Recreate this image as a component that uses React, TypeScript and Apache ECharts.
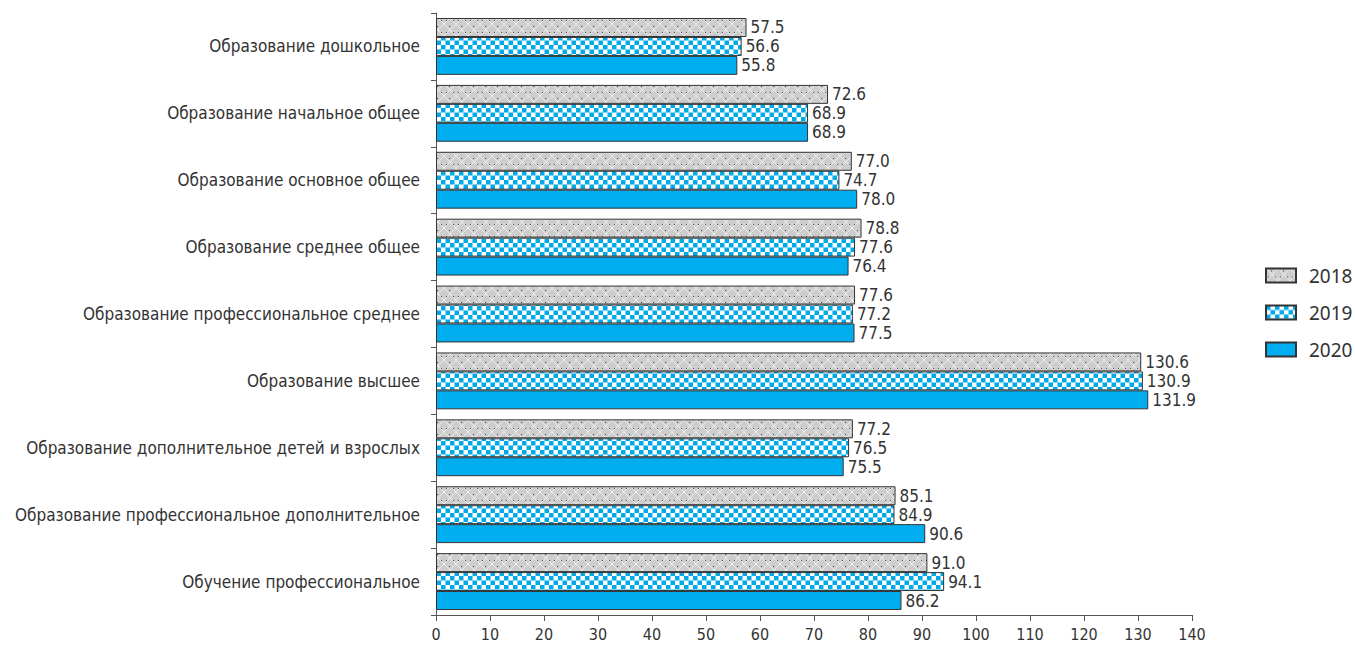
import React, { useEffect, useRef } from "react";
import * as echarts from "echarts";

const categories = [
  "Образование дошкольное",
  "Образование начальное общее",
  "Образование основное общее",
  "Образование среднее общее",
  "Образование профессиональное среднее",
  "Образование высшее",
  "Образование дополнительное детей и взрослых",
  "Образование профессиональное дополнительное",
  "Обучение профессиональное",
];
const seriesNames = ["2018", "2019", "2020"];
const values2018 = [57.5, 72.6, 77.0, 78.8, 77.6, 130.6, 77.2, 85.1, 91.0];
const values2019 = [56.6, 68.9, 74.7, 77.6, 77.2, 130.9, 76.5, 84.9, 94.1];
const values2020 = [55.8, 68.9, 78.0, 76.4, 77.5, 131.9, 75.5, 90.6, 86.2];

const FONT = "'DejaVu Sans Condensed', 'Roboto', sans-serif";

function makeChecker(): HTMLCanvasElement {
  const c = document.createElement("canvas");
  c.width = 9;
  c.height = 9;
  const ctx = c.getContext("2d")!;
  ctx.fillStyle = "#ffffff";
  ctx.fillRect(0, 0, 9, 9);
  ctx.fillStyle = "#00a9e8";
  ctx.fillRect(0, 0, 4.5, 4.5);
  ctx.fillRect(4.5, 4.5, 4.5, 4.5);
  return c;
}

function makeDots(): HTMLCanvasElement {
  const c = document.createElement("canvas");
  c.width = 12;
  c.height = 12;
  const ctx = c.getContext("2d")!;
  ctx.fillStyle = "#cdcdcd";
  ctx.fillRect(0, 0, 12, 12);
  ctx.strokeStyle = "#ececec";
  ctx.lineWidth = 1;
  ctx.beginPath();
  ctx.moveTo(0, 0);
  ctx.lineTo(12, 12);
  ctx.moveTo(12, 0);
  ctx.lineTo(0, 12);
  ctx.stroke();
  ctx.fillStyle = "#444444";
  ctx.fillRect(5, 2, 1, 1);
  ctx.fillRect(2, 8, 1, 1);
  ctx.fillRect(9, 8, 1, 1);
  return c;
}

export default function App() {
  const ref = useRef<HTMLDivElement>(null);
  useEffect(() => {
    if (!ref.current) return;
    const chart = echarts.init(ref.current, null, { renderer: "svg" });
    const checker = { image: makeChecker(), repeat: "repeat" } as any;
    const dots = { image: makeDots(), repeat: "repeat" } as any;
    const fills = [dots, checker, "#00aeef"];
    const data = [values2018, values2019, values2020];
    chart.setOption({
      animation: false,
      textStyle: { fontFamily: FONT },
      legend: {
        orient: "vertical",
        left: 1260,
        top: 261,
        itemWidth: 30,
        itemHeight: 14,
        itemGap: 18,
        data: seriesNames,
        textStyle: { fontSize: 19, color: "#333", fontFamily: "'Noto Sans', sans-serif", padding: [0, 0, 0, 8] },
        icon: "rect",
      },
      grid: { left: 436, right: 163, top: 13, bottom: 33, containLabel: false },
      xAxis: {
        type: "value",
        min: 0,
        max: 140,
        interval: 10,
        splitLine: { show: false },
        axisLine: { show: true, lineStyle: { color: "#555", width: 1 } },
        axisTick: { show: true, length: 6, lineStyle: { color: "#555" } },
        axisLabel: { fontSize: 16, color: "#333", margin: 11, fontFamily: FONT },
      },
      yAxis: {
        type: "category",
        data: categories,
        inverse: true,
        axisLine: { show: true, lineStyle: { color: "#555", width: 1 } },
        axisTick: { show: true, length: 5, lineStyle: { color: "#555" } },
        axisLabel: { fontSize: 17, color: "#333", margin: 16, fontFamily: FONT },
      },
      series: seriesNames.map((name, i) => ({
        name,
        type: "bar",
        data: data[i],
        barCategoryGap: "15%",
        barGap: "0%",
        itemStyle: { color: fills[i], borderColor: "#333", borderWidth: 1 },
        label: {
          show: true,
          position: "right",
          distance: 4,
          formatter: (p: any) => Number(p.value).toFixed(1),
          fontSize: 17,
          color: "#333",
          fontFamily: FONT,
        },
      })),
    });
    return () => chart.dispose();
  }, []);
  return (
    <div
      ref={ref}
      style={{ position: "absolute", left: 0, top: 0, width: 1355, height: 648 }}
    />
  );
}
